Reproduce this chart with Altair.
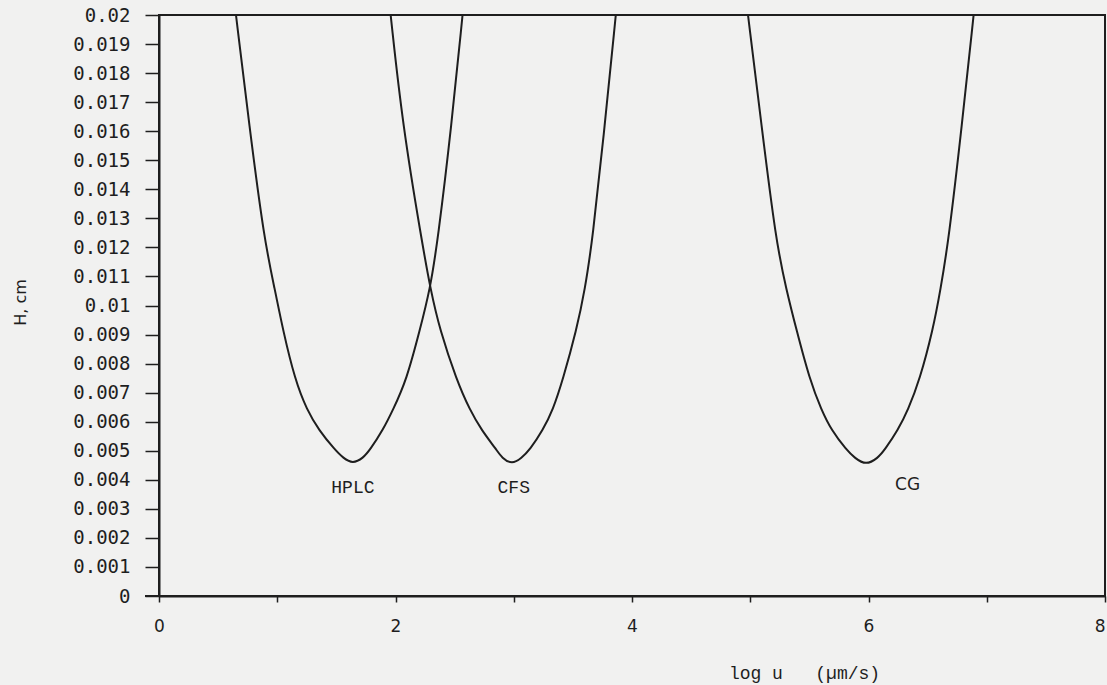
import altair as alt
import pandas as pd

# ---- values ----
y_ticks = [0, 0.001, 0.002, 0.003, 0.004, 0.005, 0.006, 0.007, 0.008, 0.009, 0.01,
           0.011, 0.012, 0.013, 0.014, 0.015, 0.016, 0.017, 0.018, 0.019, 0.02]
x_ticks = [0, 1, 2, 3, 4, 5, 6, 7, 8]

hplc_x = [0.651, 0.763, 0.890, 0.981, 1.048, 1.150, 1.251, 1.352, 1.488, 1.558, 1.638,
          1.727, 1.784, 1.893, 1.978, 2.094, 2.206, 2.291, 2.358, 2.474, 2.567]
hplc_h = [0.0200, 0.01621, 0.01225, 0.01053, 0.00916, 0.00744, 0.00640, 0.00571, 0.00503, 0.00475, 0.00455,
          0.00475, 0.00503, 0.00571, 0.00640, 0.00744, 0.00916, 0.01053, 0.01225, 0.01621, 0.0200]

cfs_x = [1.959, 2.060, 2.221, 2.297, 2.375, 2.516, 2.629, 2.728, 2.855, 2.900, 2.985,
         3.066, 3.136, 3.246, 3.331, 3.415, 3.531, 3.601, 3.666, 3.770, 3.863]
cfs_h = [0.0200, 0.01621, 0.01225, 0.01053, 0.00916, 0.00744, 0.00640, 0.00571, 0.00503, 0.00475, 0.00453,
         0.00475, 0.00503, 0.00571, 0.00640, 0.00744, 0.00916, 0.01053, 0.01225, 0.01621, 0.0200]

cg_x = [4.981, 5.095, 5.216, 5.306, 5.391, 5.503, 5.602, 5.686, 5.813, 5.884, 5.978,
        6.080, 6.137, 6.249, 6.334, 6.433, 6.545, 6.608, 6.678, 6.790, 6.889]
cg_h = [0.0200, 0.01621, 0.01225, 0.01053, 0.00916, 0.00744, 0.00640, 0.00571, 0.00503, 0.00475, 0.00450,
        0.00475, 0.00503, 0.00571, 0.00640, 0.00744, 0.00916, 0.01053, 0.01225, 0.01621, 0.0200]

mono_names = ["HPLC", "CFS"]
mono_x = [1.64, 3.0]
mono_h = [0.00372, 0.00372]
sans_names = ["CG"]
sans_x = [6.33]
sans_h = [0.00382]

x_title = "log\u00a0u\u00a0\u00a0\u00a0(µm/s)"
y_title = "H, cm"

# ---- tables ----
rows = []
for name, xs, hs in [("HPLC", hplc_x, hplc_h), ("CFS", cfs_x, cfs_h), ("CG", cg_x, cg_h)]:
    for i, (xv, hv) in enumerate(zip(xs, hs)):
        rows.append({"series": name, "x": xv, "h": hv, "idx": i})
df = pd.DataFrame(rows)
mono_df = pd.DataFrame({"name": mono_names, "x": mono_x, "h": mono_h})
sans_df = pd.DataFrame({"name": sans_names, "x": sans_x, "h": sans_h})

W, H = 946, 581
ink = "#1e1e1e"

x_scale = alt.Scale(domain=[0, 8], nice=False, zero=False)
y_scale = alt.Scale(domain=[0, 0.02], nice=False)

x_axis = alt.Axis(
    values=x_ticks, tickCount=9,
    labelExpr="datum.value % 2 == 0 ? format(datum.value, 'd') : ''",
    labelAlign={"condition": {"test": "datum.value == 8", "value": "right"}, "value": "center"},
    tickSize=6, tickWidth=1.5, tickColor=ink,
    domainColor=ink, domainWidth=2,
    labelFont="DejaVu Sans", labelFontSize=17, labelColor=ink,
    labelPadding=16, labelFlush=False, labelOverlap=False,
    grid=False,
    title=x_title, titleFont="Liberation Mono", titleFontSize=18,
    titleFontWeight="normal", titleColor=ink,
    titleX=645, titleY=77, titleAlign="center", titleBaseline="middle",
)
y_axis = alt.Axis(
    values=y_ticks, tickCount=21,
    labelExpr="datum.value == 0 ? '0' : format(datum.value, '.3~f')",
    tickSize=14, tickWidth=1.5, tickColor=ink,
    domainColor=ink, domainWidth=2,
    labelFont="DejaVu Sans Mono", labelFontSize=19, labelColor=ink,
    labelPadding=15, labelFlush=False, labelOverlap=False,
    grid=False,
    title=y_title, titleFont="DejaVu Sans", titleFontSize=16,
    titleFontWeight="normal", titleColor=ink,
    titleX=-139, titleY=287, titleAngle=270, titleAlign="center", titleBaseline="middle",
)

lines = alt.Chart(df).mark_line(
    color=ink, strokeWidth=2, interpolate="basis", clip=True
).encode(
    x=alt.X("x:Q", scale=x_scale, axis=x_axis),
    y=alt.Y("h:Q", scale=y_scale, axis=y_axis),
    detail="series:N",
    order="idx:Q",
)

mono_text = alt.Chart(mono_df).mark_text(
    font="Liberation Mono", fontSize=18, color=ink
).encode(x=alt.X("x:Q", scale=x_scale), y=alt.Y("h:Q", scale=y_scale), text="name:N")

sans_text = alt.Chart(sans_df).mark_text(
    font="DejaVu Sans", fontSize=17, color=ink
).encode(x=alt.X("x:Q", scale=x_scale), y=alt.Y("h:Q", scale=y_scale), text="name:N")

stub = alt.Chart(pd.DataFrame({"a": [0]})).mark_rule(color=ink, strokeWidth=2).encode(
    x=alt.value(-14), x2=alt.value(0), y=alt.value(H)
)

chart = alt.layer(lines, mono_text, sans_text, stub).properties(
    width=W, height=H,
    autosize=alt.AutoSizeParams(type="none"),
    padding={"left": 159, "top": 15, "right": 2, "bottom": 89},
    background="#f1f1f0",
).configure_view(stroke=ink, strokeWidth=2)

chart.save("out.html", embed_options={"renderer": "svg", "actions": False})
